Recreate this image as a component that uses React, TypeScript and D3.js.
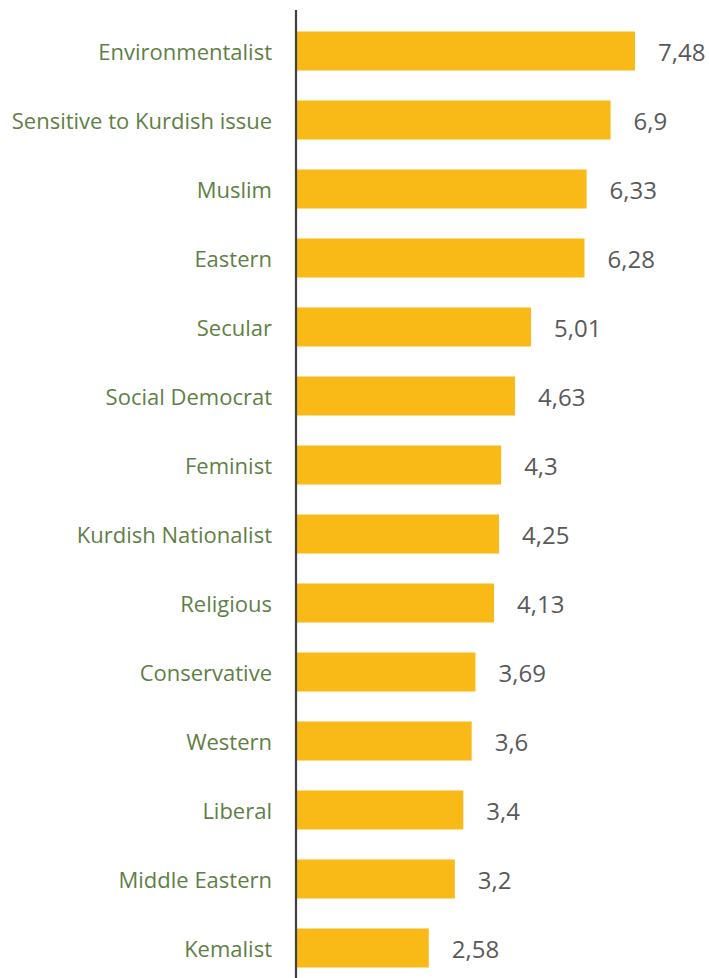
import { useEffect, useRef } from 'react';
import * as d3 from 'd3';

const categories = [
  'Environmentalist',
  'Sensitive to Kurdish issue',
  'Muslim',
  'Eastern',
  'Secular',
  'Social Democrat',
  'Feminist',
  'Kurdish Nationalist',
  'Religious',
  'Conservative',
  'Western',
  'Liberal',
  'Middle Eastern',
  'Kemalist',
];

const values = [7.48, 6.9, 6.33, 6.28, 5.01, 4.63, 4.3, 4.25, 4.13, 3.69, 3.6, 3.4, 3.2, 2.58];

const valueLabels = ['7,48', '6,9', '6,33', '6,28', '5,01', '4,63', '4,3', '4,25', '4,13', '3,69', '3,6', '3,4', '3,2', '2,58'];

export default function App() {
  const svgRef = useRef<SVGSVGElement>(null);
  const width = 709;
  const height = 978;

  useEffect(() => {
    if (!svgRef.current) return;
    const svg = d3.select(svgRef.current);
    svg.selectAll('*').remove();

    const axisX = 297;

    // the bars in the source don't start from zero, so the domain starts a bit below
    const xScale = d3.scaleLinear().domain([-0.55, 7.48]).range([axisX, 635]);

    const yScale = d3
      .scaleBand<string>()
      .domain(categories)
      .range([16.5, 982.5])
      .paddingInner(0.435)
      .paddingOuter(0.2175);

    const rows = categories.map((c, i) => ({ name: c, value: values[i], label: valueLabels[i] }));

    svg
      .append('g')
      .selectAll('rect')
      .data(rows)
      .join('rect')
      .attr('x', axisX)
      .attr('y', (d) => yScale(d.name)!)
      .attr('width', (d) => xScale(d.value) - axisX)
      .attr('height', yScale.bandwidth())
      .attr('fill', '#F9B916');

    // category labels
    svg
      .append('g')
      .selectAll('text')
      .data(rows)
      .join('text')
      .attr('x', 272)
      .attr('y', (d) => yScale(d.name)! + yScale.bandwidth() / 2)
      .attr('text-anchor', 'end')
      .attr('dominant-baseline', 'central')
      .style('font-family', '"Open Sans", sans-serif')
      .style('font-size', '22px')
      .style('fill', '#5F7F45')
      .text((d) => d.name);

    // value labels
    svg
      .append('g')
      .selectAll('text')
      .data(rows)
      .join('text')
      .attr('x', (d) => xScale(d.value) + 23)
      .attr('y', (d) => yScale(d.name)! + yScale.bandwidth() / 2)
      .attr('dominant-baseline', 'central')
      .style('font-family', '"Open Sans", sans-serif')
      .style('font-size', '24px')
      .style('fill', '#595959')
      .text((d) => d.label);

    // vertical axis line
    svg
      .append('line')
      .attr('x1', axisX - 1)
      .attr('x2', axisX - 1)
      .attr('y1', 10)
      .attr('y2', height)
      .attr('stroke', '#404040')
      .attr('stroke-width', 2.2);
  }, []);

  return (
    <div style={{ position: 'absolute', top: 0, left: 0 }}>
      <svg ref={svgRef} width={width} height={height} style={{ display: 'block', background: '#fff' }} />
    </div>
  );
}
